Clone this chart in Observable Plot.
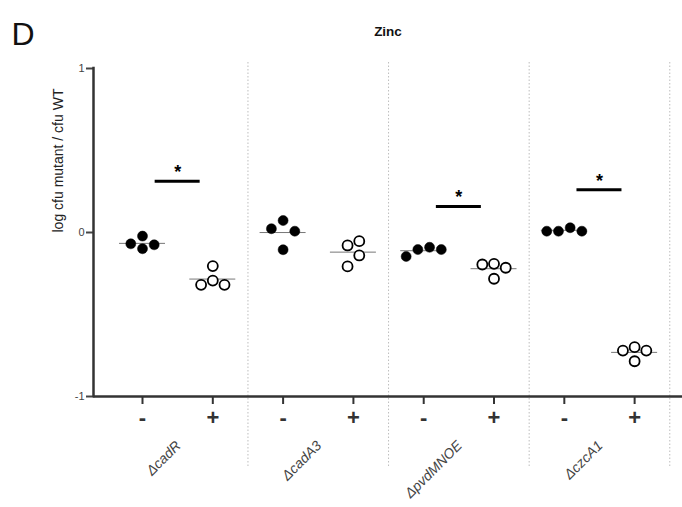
<!DOCTYPE html>
<html><head><meta charset="utf-8">
<script src="https://cdn.jsdelivr.net/npm/d3@7"></script>
<script src="https://cdn.jsdelivr.net/npm/@observablehq/plot@0.6"></script>
<style>body{margin:0;background:#fff;} #chart{width:682px;height:507px;}</style>
</head><body><div id="chart"></div>
<script>
// ---- data ----
const panelLetter = "D";
const title = "Zinc";
const yLabel = "log cfu mutant / cfu WT";
const genes = ["ΔcadR", "ΔcadA3", "ΔpvdMNOE", "ΔczcA1"];
const treatments = ["-", "+"];
const minusValues = [
  [-0.022, -0.099, -0.069, -0.075],
  [0.073, 0.008, -0.105, 0.023],
  [-0.146, -0.090, -0.104, -0.104],
  [0.008, 0.029, 0.008, 0.008]
];
const plusValues = [
  [-0.319, -0.205, -0.293, -0.319],
  [-0.079, -0.207, -0.053, -0.140],
  [-0.191, -0.215, -0.282, -0.195],
  [-0.699, -0.785, -0.720, -0.720]
];
const sigBarY = [0.313, null, 0.159, 0.26];
const yTicks = [-1, 0, 1];

// ---- layout ----
const W = 682, H = 507, mL = 93, mR = 0, mT = 68, mB = 111;
const xDomain = [-0.697, 7.681];
const yDomain = [-1, 1];
const pxX = (W - mL - mR) / (xDomain[1] - xDomain[0]);
const pxY = (H - mT - mB) / (yDomain[1] - yDomain[0]);

// build rows
const rows = [];
genes.forEach((gene, g) => {
  [minusValues[g], plusValues[g]].forEach((vals, t) => {
    vals.forEach(v => rows.push({gene, g, t, col: 2 * g + t, value: v, filled: t === 0}));
  });
});

// simple beeswarm per column (computed, not typed)
const step = 11.7, dmin = 11.5;
d3.groups(rows, d => d.col).forEach(([col, pts]) => {
  const sorted = pts.slice().sort((a, b) => b.value - a.value);
  const placed = [];
  for (const p of sorted) {
    const py = -p.value * pxY;
    for (let k = 0; k < 20; k++) {
      const off = (k === 0 ? 0 : (k % 2 ? -1 : 1) * Math.ceil(k / 2)) * step;
      if (placed.every(q => Math.hypot(q.ox - off, q.py - py) >= dmin)) {
        placed.push({p, ox: off, py});
        break;
      }
    }
  }
  const mid = (d3.min(placed, q => q.ox) + d3.max(placed, q => q.ox)) / 2;
  placed.forEach(q => { q.p.x = col + (q.ox - mid) / pxX; });
});

const means = d3.groups(rows, d => d.col).map(([col, pts]) => ({col, mean: d3.mean(pts, d => d.value)}));
const lineHalf = 23 / pxX;
const sig = genes.map((gene, g) => ({g, y: sigBarY[g]})).filter(d => d.y != null);
const barHalf = 22.5 / pxX;
const separators = genes.map((_, g) => 2 * g + 1.5);

const chart = Plot.plot({
  width: W, height: H,
  marginLeft: mL, marginRight: mR, marginTop: mT, marginBottom: mB,
  style: {fontFamily: "'Liberation Sans', Arial, sans-serif", color: "#222", background: "#fff"},
  x: {domain: xDomain, label: null},
  y: {domain: yDomain, label: null},
  marks: [
    Plot.ruleX(separators, {x: d => d, stroke: "#bdbdbd", strokeWidth: 1, strokeDasharray: "1.5,2", insetTop: -6, insetBottom: -71}),
    Plot.axisY({ticks: yTicks, tickFormat: d => String(d), tickSize: 7, tickPadding: 2, fontSize: 11, strokeWidth: 2, color: "#444", label: null}),
    Plot.axisX({ticks: d3.range(genes.length * 2), tickFormat: i => treatments[i % 2], tickSize: 8, tickPadding: 5, fontSize: 22, fontWeight: "bold", strokeWidth: 2, color: "#333", label: null}),
    Plot.ruleY([yDomain[0]], {stroke: "#333", strokeWidth: 2.5}),
    Plot.ruleX([xDomain[0]], {stroke: "#333", strokeWidth: 2.5, strokeLinecap: "square"}),
    Plot.ruleY(means, {y: "mean", x1: d => d.col - lineHalf, x2: d => d.col + lineHalf, stroke: "#777", strokeWidth: 1}),
    Plot.dot(rows, {x: "x", y: "value", r: 5, fill: d => d.filled ? "#000" : "#fff", stroke: "#000", strokeWidth: d => d.filled ? 0.5 : 1.8}),
    Plot.ruleY(sig, {y: "y", x1: d => 2 * d.g + 0.5 - barHalf, x2: d => 2 * d.g + 0.5 + barHalf, stroke: "#000", strokeWidth: 3}),
    Plot.text(sig, {x: d => 2 * d.g + 0.5, y: "y", text: () => "*", dy: -9, fontSize: 18, fontWeight: "bold", fill: "#000"}),
    Plot.text(genes, {x: (d, i) => 2 * i + 0.5, text: d => d, frameAnchor: "bottom", rotate: -45, textAnchor: "end", dx: 4, dy: 50, fontSize: 14, fontStyle: "italic", fill: "#444"}),
    Plot.text([yLabel], {frameAnchor: "left", rotate: -90, dx: -35, fontSize: 14, fill: "#222"}),
    Plot.text([title], {frameAnchor: "top", dy: -42, fontSize: 13.5, fontWeight: "bold", fill: "#111"}),
    Plot.text([panelLetter], {frameAnchor: "top-left", textAnchor: "start", dx: -82, dy: -46, fontSize: 32, fill: "#111"})
  ]
});
document.getElementById("chart").appendChild(chart);
</script>
</body></html>
